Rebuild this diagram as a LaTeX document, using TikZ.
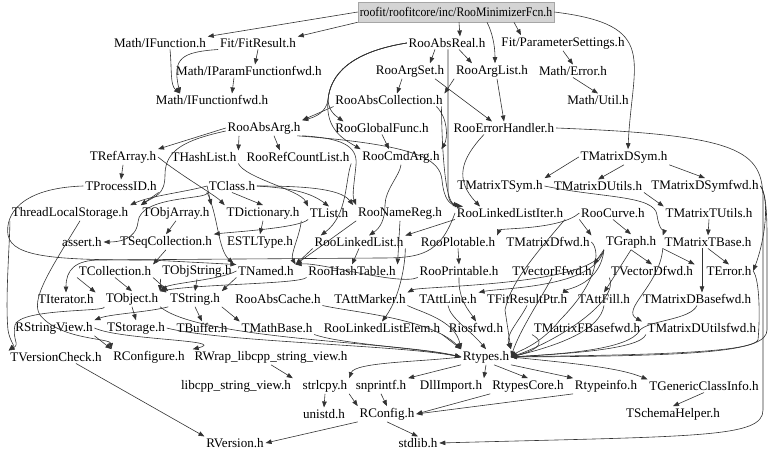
\documentclass[tikz,border=0pt]{standalone}
\usepackage{fontspec}
\setmainfont{Liberation Serif}
\usetikzlibrary{arrows.meta,calc}
\begin{document}
\begin{tikzpicture}[x=0.75pt,y=-0.75pt,
  n/.style={font=\fontsize{9.8}{11}\selectfont, inner sep=1.2pt},
  rootbox/.style={n, fill=black!17, draw=black!35, minimum width=147pt, minimum height=15pt, inner sep=0pt},
  e/.style={draw=black!80, line width=0.45pt, -{Triangle[length=4.5pt,width=3.4pt]}}]
\useasboundingbox (0,0) rectangle (768,459);
% nodes
\node[rootbox] (root) at (456,12) {\scalebox{0.9}[1]{roofit/roofitcore/inc/RooMinimizerFcn.h}};
\node[n] (IFunc) at (160,43) {Math/IFunction.h};
\node[n] (FitRes) at (258,43) {Fit/FitResult.h};
\node[n] (AbsReal) at (447,43) {RooAbsReal.h};
\node[n] (ParSet) at (563,43) {Fit/ParameterSettings.h};
\node[n] (IParFwd) at (249,71) {Math/IParamFunctionfwd.h};
\node[n] (ArgSet) at (410,71) {RooArgSet.h};
\node[n] (ArgList) at (492,71) {RooArgList.h};
\node[n] (MathErr) at (573,71) {Math/Error.h};
\node[n] (IFuncFwd) at (212,100) {Math/IFunctionfwd.h};
\node[n] (AbsColl) at (389,100) {RooAbsCollection.h};
\node[n] (MathUtil) at (598,100) {Math/Util.h};
\node[n] (AbsArg) at (264,128) {RooAbsArg.h};
\node[n] (GlobFunc) at (382,128) {RooGlobalFunc.h};
\node[n] (ErrHand) at (504,128) {RooErrorHandler.h};
\node[n] (RefArr) at (123,157) {TRefArray.h};
\node[n] (HashList) at (204,157) {THashList.h};
\node[n] (RefCnt) at (298,157) {RooRefCountList.h};
\node[n] (CmdArg) at (401,157) {RooCmdArg.h};
\node[n] (DSym) at (624,157) {TMatrixDSym.h};
\node[n] (ProcID) at (121,186) {TProcessID.h};
\node[n] (TClass) at (232,186) {TClass.h};
\node[n] (TSym) at (500,186) {TMatrixTSym.h};
\node[n] (DUtils) at (598,186) {TMatrixDUtils.h};
\node[n] (DSymFwd) at (705,186) {TMatrixDSymfwd.h};
\node[n] (TLS) at (70,213) {ThreadLocalStorage.h};
\node[n] (ObjArr) at (176,213) {TObjArray.h};
\node[n] (Dict) at (263,213) {TDictionary.h};
\node[n] (TList) at (329,213) {TList.h};
\node[n] (NameReg) at (400,213) {RooNameReg.h};
\node[n] (LLIter) at (510,213) {RooLinkedListIter.h};
\node[n] (Curve) at (613,213) {RooCurve.h};
\node[n] (TUtils) at (709,213) {TMatrixTUtils.h};
\node[n] (assert) at (82,242) {assert.h};
\node[n] (SeqColl) at (166,242) {TSeqCollection.h};
\node[n] (ESTL) at (260,242) {ESTLType.h};
\node[n] (LList) at (359,242) {RooLinkedList.h};
\node[n] (Plotable) at (458,242) {RooPlotable.h};
\node[n] (Dfwd) at (548,242) {TMatrixDfwd.h};
\node[n] (Graph) at (631,242) {TGraph.h};
\node[n] (TBase) at (708,242) {TMatrixTBase.h};
\node[n] (Coll) at (115,271) {TCollection.h};
\node[n] (ObjStr) at (197,271) {TObjString.h};
\node[n] (Named) at (266,271) {TNamed.h};
\node[n] (HashTab) at (352,271) {RooHashTable.h};
\node[n] (Printable) at (459,271) {RooPrintable.h};
\node[n] (VFfwd) at (552,271) {TVectorFfwd.h};
\node[n] (VDfwd) at (652,271) {TVectorDfwd.h};
\node[n] (TError) at (729,271) {TError.h};
\node[n] (Iter) at (66,299) {TIterator.h};
\node[n] (Object) at (132,299) {TObject.h};
\node[n] (String) at (195,299) {TString.h};
\node[n] (AbsCache) at (278,299) {RooAbsCache.h};
\node[n] (AttMarker) at (370,299) {TAttMarker.h};
\node[n] (AttLine) at (448,299) {TAttLine.h};
\node[n] (FitResPtr) at (527,299) {TFitResultPtr.h};
\node[n] (AttFill) at (604,299) {TAttFill.h};
\node[n] (DBasefwd) at (697,299) {TMatrixDBasefwd.h};
\node[n] (StrView) at (54,328) {RStringView.h};
\node[n] (Storage) at (136,328) {TStorage.h};
\node[n] (Buffer) at (202,328) {TBuffer.h};
\node[n] (MathBase) at (277,328) {TMathBase.h};
\node[n] (LLElem) at (382,328) {RooLinkedListElem.h};
\node[n] (Riosfwd) at (476,328) {Riosfwd.h};
\node[n] (FBasefwd) at (587,328) {TMatrixFBasefwd.h};
\node[n] (DUtilsfwd) at (702,328) {TMatrixDUtilsfwd.h};
\node[n] (VerCheck) at (56,357) {TVersionCheck.h};
\node[n] (RConfigure) at (149,357) {RConfigure.h};
\node[n] (RWrap) at (271,357) {RWrap\_libcpp\_string\_view.h};
\node[n] (Rtypes) at (486,357) {Rtypes.h};
\node[n] (libcpp) at (236,386) {libcpp\_string\_view.h};
\node[n] (strlcpy) at (325,386) {strlcpy.h};
\node[n] (snprintf) at (381,386) {snprintf.h};
\node[n] (DllImport) at (451,386) {DllImport.h};
\node[n] (RtypesCore) at (528,386) {RtypesCore.h};
\node[n] (Rtypeinfo) at (606,386) {Rtypeinfo.h};
\node[n] (GenCI) at (704,386) {TGenericClassInfo.h};
\node[n] (unistd) at (324,414) {unistd.h};
\node[n] (RConfig) at (387,414) {RConfig.h};
\node[n] (Schema) at (673,414) {TSchemaHelper.h};
\node[n] (RVersion) at (235,443) {RVersion.h};
\node[n] (stdlib) at (418,443) {stdlib.h};
% edges: top
\draw[e] (root.west) -- (IFunc.north east);
\draw[e] (root.south west) -- (FitRes.north east);
\draw[e] ($(root.south)+(3,0)$) -- ($(AbsReal.north)+(13,0)$);
\draw[e] ($(root.south)+(31,0)$) .. controls (492,32) and (495,45) .. ($(ArgList.north)+(3,0)$);
\draw[e] ($(root.south)+(58,0)$) -- ($(ParSet.north)+(-42,0)$);
\draw[e] (root.east) .. controls (660,25) and (632,60) .. ($(DSym.north)+(4,0)$);
\draw[e] ($(IFunc.south)+(10,0)$) .. controls (172,70) and (170,85) .. ($(IFuncFwd.north)+(-32,0)$);
\draw[e] (FitRes.south west) .. controls (182,52) and (172,58) .. ($(IFuncFwd.north)+(-32,0)$);
\draw[e] (FitRes.south) -- ($(IParFwd.north)+(6,0)$);
\draw[e] ($(IParFwd.south)+(-15,0)$) -- ($(IFuncFwd.north)+(20,0)$);
\draw[e] (ParSet.south) -- (MathErr.north);
\draw[e] (MathErr.south) -- (MathUtil.north);
% RooAbsReal
\draw[e] ($(AbsReal.south)+(-12,0)$) -- ($(ArgSet.north)+(20,0)$);
\draw[e] ($(AbsReal.south)+(12,0)$) -- ($(ArgList.north)+(-20,0)$);
\draw[e] (AbsReal.west) .. controls (350,52) and (330,75) .. (328,100) .. controls (326,112) and (316,117) .. (AbsArg.north east);
\draw[e] (AbsReal.west) .. controls (350,52) and (330,75) .. (328,100) .. controls (329,112) and (336,116) .. ($(GlobFunc.north west)+(10,0)$);
\draw[e] (AbsReal.west) .. controls (350,52) and (330,75) .. (328,100) .. controls (325,130) and (345,140) .. (CmdArg.north west);
\draw[e] ($(AbsReal.south)+(1,0)$) -- (448,190) .. controls (448,202) and (452,204) .. ($(LLIter.north west)+(6,0)$);
% RooArgSet / RooArgList
\draw[e] ($(ArgSet.south)+(-8,0)$) -- ($(AbsColl.north)+(8,0)$);
\draw[e] (ArgList.south west) -- (AbsColl.north east);
\draw[e] ($(ArgSet.south)+(25,0)$) -- ($(ErrHand.north)+(-12,0)$);
\draw[e] ($(ArgList.south)+(5,0)$) -- (ErrHand.north);
% RooAbsCollection / GlobalFunc
\draw[e] (AbsColl.south west) -- (AbsArg.north east);
\draw[e] ($(AbsColl.south east)+(-8,0)$) .. controls (448,118) and (448,138) .. (CmdArg.north east);
\draw[e] (GlobFunc.south) -- ($(CmdArg.north)+(-12,0)$);
\draw[e] ($(AbsColl.south east)+(-3,0)$) .. controls (442,150) and (445,200) .. ($(LLIter.north west)+(4,0)$);
% RooAbsArg
\draw[e] (AbsArg.west) -- (RefArr.north east);
\draw[e] ($(AbsArg.west)+(0,3)$) .. controls (185,140) and (165,150) .. (165,175) .. controls (165,195) and (155,196) .. (ObjArr.north west);
\draw[e] ($(AbsArg.south)+(-25,0)$) -- (HashList.north east);
\draw[e] ($(AbsArg.south)+(10,0)$) -- ($(RefCnt.north)+(-18,0)$);
\draw[e] (AbsArg.south east) .. controls (340,138) and (358,145) .. (356,165) .. controls (354,185) and (352,195) .. (NameReg.north west);
\draw[e] ($(AbsArg.south east)+(-5,0)$) .. controls (420,145) and (440,160) .. (442,180) .. controls (444,200) and (450,205) .. ($(LLIter.north west)+(8,0)$);
% ErrorHandler
\draw[e] (ErrHand.east) .. controls (740,135) and (763,150) .. (763,200) -- (763,410) .. controls (763,438) and (700,436) .. (stdlib.east);
\draw[e] ($(ErrHand.south)+(-20,0)$) .. controls (460,160) and (455,180) .. ($(LLIter.north)+(-30,0)$);
% RooRefCountList / RooCmdArg
\draw[e] (RefCnt.south east) .. controls (345,180) and (348,215) .. ($(LList.north west)+(8,0)$);
\draw[e] (CmdArg.south) .. controls (400,175) and (385,190) .. (385,205) .. controls (385,220) and (380,228) .. ($(LList.north)+(10,0)$);
% TRefArray / TProcessID / THashList
\draw[e] (RefArr.south) -- (ProcID.north);
\draw[e] (RefArr.east) .. controls (180,175) and (215,195) .. (Dict.north west);
\draw[e] (ProcID.west) .. controls (20,188) and (5,215) .. (8,235) .. controls (12,258) and (60,260) .. (150,260) -- (Named.north west);
\draw[e] (ProcID.south east) -- (ObjArr.north west);
\draw[e] (HashList.south east) .. controls (245,178) and (300,190) .. (TList.north west);
% TClass
\draw[e] (TClass.west) -- (ObjArr.north east);
\draw[e] (TClass.west) .. controls (185,192) and (150,196) .. (TLS.north east);
\draw[e] (TClass.south west) .. controls (210,200) and (140,195) .. (138,222) .. controls (136,240) and (118,242) .. (assert.east);
\draw[e] (TClass.south) -- (Dict.north);
\draw[e] (TClass.east) .. controls (290,188) and (310,192) .. (TList.north);
\draw[e] (TClass.east) .. controls (300,186) and (340,188) .. ($(NameReg.north west)+(-3,0)$);
\draw[e] (TClass.south west) .. controls (218,215) and (218,250) .. (ObjStr.north east);
% second row
\draw[e] (Dict.south) -- (ESTL.north);
\draw[e] (Dict.south east) .. controls (300,235) and (290,255) .. (Named.north east);
\draw[e] (ObjArr.south) -- (SeqColl.north);
\draw[e] (TList.south west) .. controls (300,228) and (232,232) .. (SeqColl.north east);
\draw[e] (SeqColl.south) -- (Coll.north east);
\draw[e] (Coll.south west) -- (Iter.north east);
\draw[e] (Coll.south) -- (Object.north);
\draw[e] (Coll.south east) -- (String.north west);
\draw[e] (ObjStr.south) -- (String.north);
\draw[e] (ObjStr.south west) -- (Object.north east);
\draw[e] (Named.south west) -- (String.north east);
\draw[e] (Named.west) .. controls (220,280) and (170,283) .. (Object.north east);
% RooFit lists
\draw[e] (LLIter.west) .. controls (440,255) and (420,258) .. (380,258) -- (100,260) .. controls (75,260) and (66,270) .. (Iter.north);
\draw[e] (LLIter.south west) -- (LList.north east);
\draw[e] (LList.south) -- (HashTab.north);
\draw[e] (LList.south west) -- (Named.north east);
\draw[e] (LList.south east) .. controls (405,270) and (398,300) .. (LLElem.north);
\draw[e] (HashTab.south west) .. controls (300,284) and (200,284) .. (Object.north east);
\draw[e] (NameReg.south) -- (HashTab.north east);
\draw[e] (NameReg.south west) -- (Named.north east);
\draw[e] (Plotable.south) -- (Printable.north);
\draw[e] (Printable.south) .. controls (458,300) and (470,312) .. (Riosfwd.north);
\draw[e] (Printable.south west) .. controls (400,286) and (320,262) .. (Named.north east);
\draw[e] (Curve.south) -- (Graph.north);
\draw[e] (Curve.south west) -- (Dfwd.north east);
\draw[e] (Curve.west) .. controls (560,230) and (500,228) .. (Plotable.north east);
% TMatrix
\draw[e] (DSym.west) -- (TSym.north east);
\draw[e] (DSym.south) -- (DUtils.north);
\draw[e] (DSym.south east) -- (DSymFwd.north);
\draw[e] (DUtils.south east) -- (TUtils.north west);
\draw[e] (TSym.east) .. controls (600,198) and (655,195) .. (657,215) .. controls (659,230) and (664,232) .. (TBase.north west);
\draw[e] (TUtils.south) -- (TBase.north);
\draw[e] (TBase.south west) -- (VDfwd.north east);
\draw[e] (TBase.south) -- (TError.north);
\draw[e] ($(TBase.south)+(-6,0)$) -- ($(DBasefwd.north)+(5,0)$);
\draw[e] (TBase.south west) .. controls (660,285) and (620,310) .. (FBasefwd.north east);
\draw[e] (DSymFwd.east) .. controls (770,200) and (765,240) .. (TError.east);
% TGraph
\draw[e] (Graph.south west) -- (VFfwd.north east);
\draw[e] (Graph.south) -- (VDfwd.north);
\draw[e] (Graph.south) -- (AttFill.north);
\draw[e] (Graph.south west) .. controls (600,288) and (560,290) .. (FitResPtr.north east);
\draw[e] (Graph.south west) .. controls (595,288) and (500,288) .. (AttLine.north east);
\draw[e] (Graph.south west) .. controls (595,286) and (420,286) .. (AttMarker.north east);
% lower left
\draw[e] (TLS.south west) .. controls (10,240) and (5,300) .. (8,330) .. controls (10,342) and (15,345) .. (VerCheck.north west);
\draw[e] ($(TLS.south)+(10,0)$) .. controls (50,270) and (30,300) .. (40,315) .. controls (60,340) and (110,338) .. (RConfigure.north west);
\draw[e] (Object.south) -- (Storage.north);
\draw[e] (Object.south west) .. controls (110,312) and (20,308) .. (15,325) .. controls (12,340) and (20,344) .. (VerCheck.north west);
\draw[e] (String.south west) .. controls (150,312) and (110,314) .. (StrView.north east);
\draw[e] (String.south) -- (Buffer.north);
\draw[e] (String.south east) -- (MathBase.north west);
\draw[e] (StrView.south east) -- (RConfigure.north west);
\draw[e] (StrView.east) .. controls (120,340) and (230,340) .. (RWrap.north west);
\draw[e] (RWrap.south) -- (libcpp.north east);
% into Rtypes from left
\draw[e] (Object.south east) .. controls (200,340) and (400,342) .. (Rtypes.west);
\draw[e] (Storage.east) .. controls (220,342) and (400,345) .. (Rtypes.west);
\draw[e] (MathBase.south east) .. controls (340,344) and (420,348) .. (Rtypes.west);
\draw[e] (LLElem.south east) -- (Rtypes.north west);
\draw[e] (AbsCache.south east) .. controls (350,312) and (430,318) .. (Rtypes.north west);
\draw[e] (AttMarker.south east) .. controls (420,312) and (455,320) .. (Rtypes.north west);
\draw[e] (AttLine.south) .. controls (450,318) and (470,330) .. (Rtypes.north);
\draw[e] (LLIter.south east) .. controls (530,260) and (510,285) .. (505,310) -- (Rtypes.north east);
% into Rtypes from right
\draw[e] (FitResPtr.south) .. controls (520,320) and (505,335) .. (Rtypes.north east);
\draw[e] (AttFill.south) .. controls (600,330) and (560,345) .. (Rtypes.east);
\draw[e] (FBasefwd.south west) .. controls (550,345) and (530,352) .. (Rtypes.east);
\draw[e] (DUtilsfwd.south west) .. controls (640,350) and (560,354) .. (Rtypes.east);
\draw[e] (DBasefwd.south) .. controls (690,320) and (650,320) .. (640,330) .. controls (630,350) and (560,354) .. (Rtypes.east);
\draw[e] (VFfwd.south) .. controls (540,300) and (520,330) .. (Rtypes.east);
\draw[e] (VDfwd.south west) .. controls (620,300) and (560,340) .. (Rtypes.east);
\draw[e] (TError.east) .. controls (760,280) and (760,320) .. (758,340) .. controls (750,355) and (600,355) .. (Rtypes.east);
\draw[e] (Dfwd.east) .. controls (600,250) and (600,280) .. (560,320) .. controls (540,345) and (520,350) .. (Rtypes.east);
\draw[e] (DSymFwd.east) .. controls (768,195) and (767,230) .. (767,260) -- (767,330) .. controls (767,352) and (700,356) .. (Rtypes.east);
% out of Rtypes
\draw[e] (Rtypes.west) .. controls (420,362) and (355,362) .. (strlcpy.north east);
\draw[e] (Rtypes.south west) -- (snprintf.north east);
\draw[e] (Rtypes.south) -- (DllImport.north east);
\draw[e] ($(Rtypes.south)+(8,0)$) -- (RtypesCore.north);
\draw[e] (Rtypes.south east) -- (Rtypeinfo.north west);
\draw[e] (Rtypes.east) .. controls (580,364) and (620,368) .. (GenCI.north west);
\draw[e] (strlcpy.south) -- (unistd.north);
\draw[e] (strlcpy.south east) -- (RConfig.north west);
\draw[e] (snprintf.south) -- (RConfig.north);
\draw[e] (RtypesCore.south west) -- (RConfig.east);
\draw[e] (Rtypeinfo.south west) -- (RConfig.east);
\draw[e] (RConfig.south west) -- (RVersion.east);
\draw[e] (RConfig.south) -- (stdlib.north);
\draw[e] ($(VerCheck.south)+(20,0)$) -- (RVersion.north west);
\draw[e] (GenCI.south) -- (Schema.north);
\end{tikzpicture}
\end{document}
